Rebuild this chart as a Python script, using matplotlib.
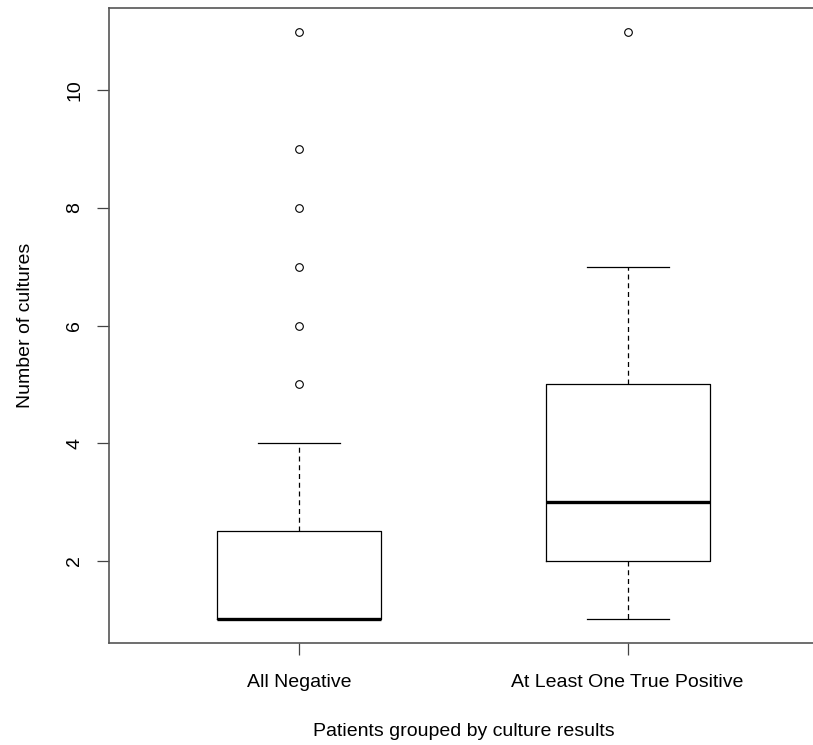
import matplotlib.pyplot as plt

plt.rcParams['font.family'] = ['Liberation Sans', 'DejaVu Sans']

groups = ['All Negative', 'At Least One True Positive']
medians = [1, 3]
q1 = [1, 2]
q3 = [2.5, 5]
whis_lo = [1, 1]
whis_hi = [4, 7]
outliers = [[5, 6, 7, 8, 9, 11], [11]]

stats = []
for i in range(len(groups)):
    stats.append({'med': medians[i], 'q1': q1[i], 'q3': q3[i],
                  'whislo': whis_lo[i], 'whishi': whis_hi[i],
                  'fliers': outliers[i], 'label': groups[i]})

fig = plt.figure(figsize=(8.13, 7.45), dpi=100)
ax = fig.add_axes([109 / 813, 102 / 745, 709 / 813, 635 / 745])

ax.bxp(stats, positions=[1, 2], widths=0.5,
       boxprops=dict(color='black', linewidth=0.9),
       medianprops=dict(color='black', linewidth=2.4, solid_capstyle='butt'),
       whiskerprops=dict(color='black', linewidth=0.9, linestyle=(0, (4, 3))),
       capprops=dict(color='black', linewidth=0.9),
       capwidths=0.25,
       flierprops=dict(marker='o', markersize=5.5, markerfacecolor='none',
                       markeredgecolor='black', markeredgewidth=0.8))

ax.set_xlim(0.42, 2.58)
ax.set_ylim(0.6, 11.4)
ax.set_yticks([2, 4, 6, 8, 10])
ax.set_xticks([1, 2])
ax.set_xticklabels(groups, fontsize=14)
for lab in ax.get_yticklabels():
    lab.set_rotation(90)
    lab.set_va('center')
    lab.set_fontsize(14)
ax.tick_params(direction='out', length=8.5, width=0.9, color='#444444')
ax.tick_params(axis='x', pad=14)
ax.tick_params(axis='y', pad=10)
for s in ax.spines.values():
    s.set_color('#555555')
    s.set_linewidth(1.2)

ax.set_xlabel('Patients grouped by culture results', fontsize=14, labelpad=23)
ax.set_ylabel('Number of cultures', fontsize=14, labelpad=23)

fig.savefig('out.png', dpi=100)
